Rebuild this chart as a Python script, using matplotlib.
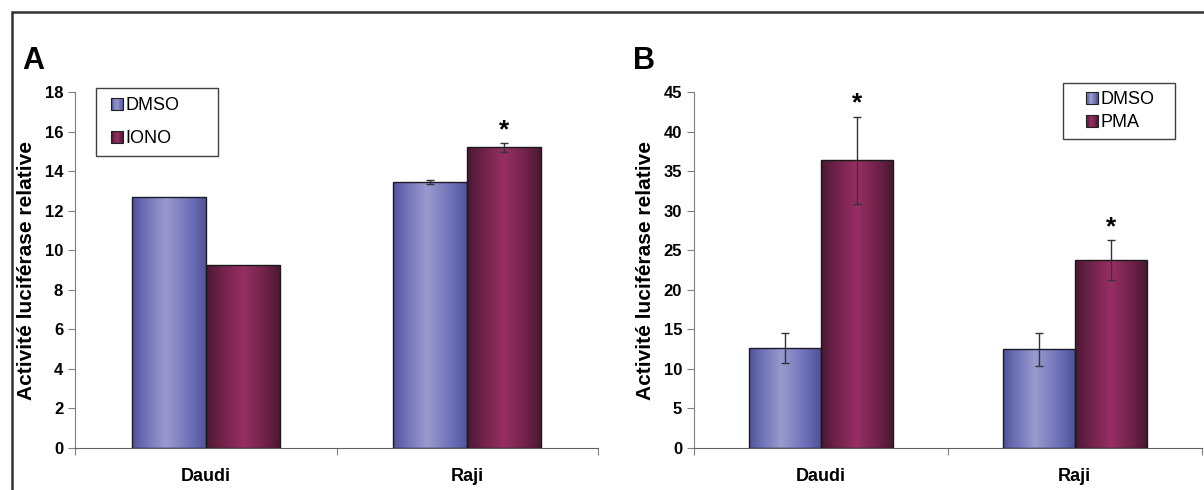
import numpy as np
import matplotlib
matplotlib.use("Agg")
import matplotlib.pyplot as plt
from matplotlib.colors import LinearSegmentedColormap
from matplotlib.patches import Rectangle, Patch
from matplotlib.legend_handler import HandlerPatch

plt.rcParams['font.family'] = ['Liberation Sans', 'DejaVu Sans']

categories = ['Daudi', 'Raji']
ylabel = 'Activité luciférase relative'

# Panel A
a_dmso = [12.7, 13.43]
a_dmso_err = [0.0, 0.1]
a_iono = [9.25, 15.2]
a_iono_err = [0.0, 0.22]
a_stars = [False, True]

# Panel B
b_dmso = [12.6, 12.5]
b_dmso_err = [1.9, 2.1]
b_pma = [36.4, 23.8]
b_pma_err = [5.5, 2.5]
b_stars = [True, True]

blue_cmap = LinearSegmentedColormap.from_list(
    'blue', [(0, '#4e5296'), (0.15, '#6a6db4'), (0.45, '#9a9ace'),
             (0.8, '#6b6eb6'), (1, '#4e5296')])
red_cmap = LinearSegmentedColormap.from_list(
    'red', [(0, '#4a1831'), (0.2, '#6e2248'), (0.5, '#972e63'),
            (0.8, '#6e2248'), (1, '#481830')])

grad = np.linspace(0, 1, 256).reshape(1, -1)


def gradient_bars(ax, bars, cmap):
    for b in bars:
        x, y = b.get_x(), b.get_y()
        w, h = b.get_width(), b.get_height()
        im = ax.imshow(grad, cmap=cmap, aspect='auto',
                       extent=[x, x + w, y, y + h], zorder=2)
        im.set_clip_path(b)
        b.set_facecolor('none')
        b.set_zorder(3)


class GradHandler(HandlerPatch):
    def __init__(self, cmap):
        super().__init__()
        self.cmap = cmap

    def create_artists(self, legend, orig_handle, xdescent, ydescent,
                       width, height, fontsize, trans):
        s = height * 0.95
        x0 = width - s
        arts = []
        n = 8
        for i in range(n):
            r = Rectangle((x0 + i * s / n - xdescent, -ydescent), s / n + 0.3, s,
                          facecolor=self.cmap((i + 0.5) / n), edgecolor='none',
                          transform=trans)
            arts.append(r)
        border = Rectangle((x0 - xdescent, -ydescent), s, s, facecolor='none',
                           edgecolor='#202020', linewidth=0.8, transform=trans)
        arts.append(border)
        return arts


def panel(ax, v1, e1, v2, e2, stars, ymax, ystep, labels, legend_loc, letter, lx):
    x = np.arange(len(categories))
    w = 0.283
    b1 = ax.bar(x - w / 2, v1, w, edgecolor='#1a1a2a', linewidth=1.0)
    b2 = ax.bar(x + w / 2, v2, w, edgecolor='#1a1a1a', linewidth=1.0)
    gradient_bars(ax, b1, blue_cmap)
    gradient_bars(ax, b2, red_cmap)
    for xi, v, e in zip(x - w / 2, v1, e1):
        if e > 0:
            ax.errorbar(xi, v, yerr=e, color='#333333', elinewidth=1.0,
                        capsize=3, capthick=1.0, zorder=4)
    for xi, v, e, s in zip(x + w / 2, v2, e2, stars):
        if e > 0:
            ax.errorbar(xi, v, yerr=e, color='#333333', elinewidth=1.0,
                        capsize=3, capthick=1.0, zorder=4)
        if s:
            ax.text(xi, v + e + ymax * 0.003, '*', ha='center', va='bottom',
                    fontsize=19, fontweight='bold')
    ax.set_xlim(-0.5, 1.5)
    ax.set_ylim(0, ymax)
    ax.set_yticks(np.arange(0, ymax + 0.1, ystep))
    ax.set_xticks([-0.5, 0.5, 1.5])
    ax.set_xticklabels([])
    ax.tick_params(axis='x', length=5, direction='out', color='#808080')
    ax.tick_params(axis='y', length=5, direction='out', color='#808080',
                   labelsize=12)
    for t in ax.get_yticklabels():
        t.set_fontweight('bold')
    for i, c in enumerate(categories):
        ax.text(i, -0.055, c, transform=ax.get_xaxis_transform(), ha='center',
                va='top', fontsize=13, fontweight='bold')
    for s in ['top', 'right']:
        ax.spines[s].set_visible(False)
    ax.spines['left'].set_color('#808080')
    ax.spines['bottom'].set_color('#606060')
    ax.set_ylabel(ylabel, fontsize=15, fontweight='bold', labelpad=6)
    h1 = Patch(label=labels[0])
    h2 = Patch(label=labels[1])
    leg = ax.legend([h1, h2], labels, handler_map={h1: GradHandler(blue_cmap),
                                                   h2: GradHandler(red_cmap)},
                    **legend_loc)
    leg.get_frame().set_edgecolor('#404040')
    leg.get_frame().set_linewidth(1.0)
    ax.text(lx, 1.045, letter, transform=ax.transAxes, fontsize=22,
            fontweight='bold', ha='left', va='bottom')


fig = plt.figure(figsize=(12.04, 4.90), dpi=100)
axA = fig.add_axes([0.0623, 0.0857, 0.4344, 0.7265])
axB = fig.add_axes([0.5764, 0.0857, 0.4216, 0.7265])

panel(axA, a_dmso, a_dmso_err, a_iono, a_iono_err, a_stars, 18, 2,
      ['DMSO', 'IONO'],
      dict(loc='upper left', bbox_to_anchor=(0.04, 0.5, 0.233, 0.51),
           mode='expand', fontsize=13,
           fancybox=False, framealpha=1, labelspacing=0.85, handlelength=1.0,
           handletextpad=0.15, borderpad=0.5, borderaxespad=0, shadow=False),
      'A', -0.1)
panel(axB, b_dmso, b_dmso_err, b_pma, b_pma_err, b_stars, 45, 5,
      ['DMSO', 'PMA'],
      dict(loc='upper left', bbox_to_anchor=(0.726, 0.5, 0.222, 0.525),
           mode='expand', fontsize=13,
           fancybox=False, framealpha=1, labelspacing=0.3, handlelength=1.5,
           handletextpad=0.15, borderpad=0.45, borderaxespad=0),
      'B', -0.12)

border = Rectangle((12 / 1204, -0.05), 1.1, 1 - 12 / 490 + 0.05,
                   transform=fig.transFigure, fill=False, edgecolor='#333333',
                   linewidth=1.8)
fig.patches.append(border)

fig.savefig('out.png', dpi=100)
